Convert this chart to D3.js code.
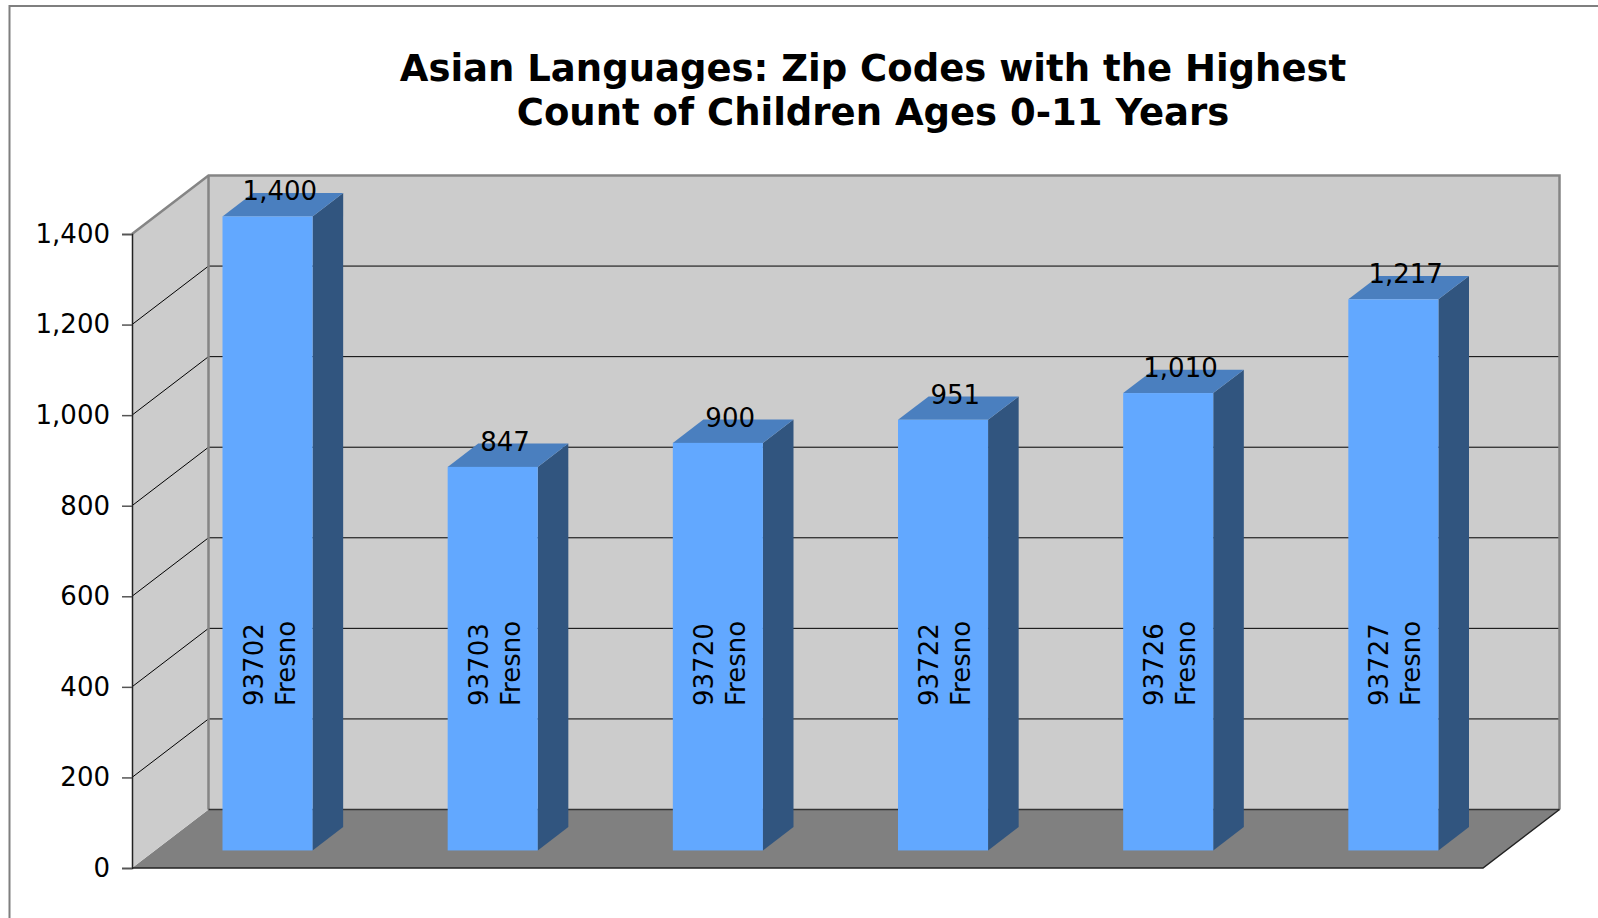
<!DOCTYPE html>
<html>
<head>
<meta charset="utf-8">
<script src="https://d3js.org/d3.v7.min.js"></script>
<style>
  body { margin: 0; background: #fff; }
  svg { display: block; font-family: Verdana, "DejaVu Sans", sans-serif; }
</style>
</head>
<body>
<div id="chart"></div>
<script>
// Chart data
const zipCodes = ["93702", "93703", "93720", "93722", "93726", "93727"];
const cities = ["Fresno", "Fresno", "Fresno", "Fresno", "Fresno", "Fresno"];
const counts = [1400, 847, 900, 951, 1010, 1217];
const yTicks = [0, 200, 400, 600, 800, 1000, 1200, 1400];
const titleLines = ["Asian Languages: Zip Codes with the Highest", "Count of Children Ages 0-11 Years"];

const width = 1598, height = 918;

// 3D box geometry
const floorY = 868;      // front floor edge
const frontLeft = 132, frontRight = 1483;
const depthX = 76.5, depthY = 58.5;   // full depth offset of the plot box
const barD0 = 0.3, barD1 = 0.7;       // bar depth range (fraction of box depth)

const svg = d3.select('#chart')
    .append('svg')
    .attr('width', width)
    .attr('height', height);

// outer chart border
svg.append('rect')
    .attr('x', 9.5).attr('y', 6)
    .attr('width', 1700).attr('height', 1000)
    .attr('fill', 'none')
    .attr('stroke', '#7f7f7f')
    .attr('stroke-width', 2);

// title
svg.append('text')
    .attr('text-anchor', 'middle')
    .attr('font-weight', 'bold')
    .attr('font-size', '37px')
    .attr('fill', '#000')
    .selectAll('tspan')
    .data(titleLines)
    .join('tspan')
    .attr('x', 873)
    .attr('y', (d, i) => 81 + i * 44)
    .text(d => d);

// scales
const y = d3.scaleLinear().domain([0, 1400]).range([floorY, floorY - 634]);
const x = d3.scaleBand()
    .domain(zipCodes)
    .range([frontLeft, frontRight])
    .paddingInner(0.6)
    .paddingOuter(0.3);

// project a point at depth fraction d
const px = (xx, d) => xx + depthX * d;
const py = (yy, d) => yy - depthY * d;

const pts = arr => arr.map(p => p.join(',')).join(' ');

const walls = svg.append('g');

// floor
walls.append('polygon')
    .attr('points', pts([
        [frontLeft, floorY], [px(frontLeft, 1), py(floorY, 1)],
        [px(frontRight, 1), py(floorY, 1)], [frontRight, floorY]
    ]))
    .attr('fill', '#808080');

// side wall
walls.append('polygon')
    .attr('points', pts([
        [frontLeft, y(1400)], [px(frontLeft, 1), py(y(1400), 1)],
        [px(frontLeft, 1), py(floorY, 1)], [frontLeft, floorY]
    ]))
    .attr('fill', '#cccccc');

// back wall
walls.append('rect')
    .attr('x', px(frontLeft, 1))
    .attr('y', py(y(1400), 1))
    .attr('width', frontRight - frontLeft)
    .attr('height', y(0) - y(1400))
    .attr('fill', '#cccccc');

// gridlines on back wall and side wall
const grid = walls.append('g')
    .attr('stroke', '#000')
    .attr('stroke-width', 1);

grid.selectAll('line.back')
    .data(yTicks.filter(v => v > 0 && v < 1400))
    .join('line')
    .attr('class', 'back')
    .attr('x1', px(frontLeft, 1)).attr('x2', px(frontRight, 1))
    .attr('y1', d => py(y(d), 1)).attr('y2', d => py(y(d), 1));

grid.selectAll('line.side')
    .data(yTicks.filter(v => v > 0 && v < 1400))
    .join('line')
    .attr('class', 'side')
    .attr('x1', frontLeft).attr('x2', px(frontLeft, 1))
    .attr('y1', d => y(d)).attr('y2', d => py(y(d), 1));

// wall edges
walls.append('polyline')
    .attr('points', pts([
        [frontLeft, y(1400)], [px(frontLeft, 1), py(y(1400), 1)],
        [px(frontRight, 1), py(y(1400), 1)], [px(frontRight, 1), py(floorY, 1)]
    ]))
    .attr('fill', 'none')
    .attr('stroke', '#858585')
    .attr('stroke-width', 2.5);

walls.append('line')
    .attr('x1', px(frontLeft, 1)).attr('x2', px(frontLeft, 1))
    .attr('y1', py(y(1400), 1)).attr('y2', py(floorY, 1))
    .attr('stroke', '#858585')
    .attr('stroke-width', 2.5);

walls.append('line')
    .attr('x1', px(frontLeft, 1)).attr('x2', px(frontRight, 1))
    .attr('y1', py(floorY, 1)).attr('y2', py(floorY, 1))
    .attr('stroke', '#333')
    .attr('stroke-width', 1.5);

walls.append('polyline')
    .attr('points', pts([
        [frontLeft, floorY], [frontRight, floorY], [px(frontRight, 1), py(floorY, 1)]
    ]))
    .attr('fill', 'none')
    .attr('stroke', '#222')
    .attr('stroke-width', 1.5);

// y axis on the front left edge
const axis = svg.append('g')
    .attr('transform', `translate(${frontLeft},0)`)
    .call(d3.axisLeft(y)
        .tickValues(yTicks)
        .tickSize(10)
        .tickPadding(12)
        .tickFormat(d3.format(',')));

axis.select('.domain').attr('stroke', '#222').attr('stroke-width', 1.5);
axis.selectAll('.tick line').attr('stroke', '#555').attr('stroke-width', 1.5);
axis.selectAll('.tick text')
    .attr('font-size', '26px')
    .attr('font-family', 'Verdana, "DejaVu Sans", sans-serif')
    .attr('fill', '#000');

// bars
const bars = svg.append('g')
    .selectAll('g')
    .data(zipCodes.map((z, i) => ({ zip: z, city: cities[i], value: counts[i] })))
    .join('g');

bars.each(function(d) {
    const g = d3.select(this);
    const x0 = x(d.zip), x1 = x(d.zip) + x.bandwidth();
    const yt = y(d.value), yb = y(0);

    // side face
    g.append('polygon')
        .attr('points', pts([
            [px(x1, barD0), py(yt, barD0)], [px(x1, barD1), py(yt, barD1)],
            [px(x1, barD1), py(yb, barD1)], [px(x1, barD0), py(yb, barD0)]
        ]))
        .attr('fill', '#31557f');

    // top face
    g.append('polygon')
        .attr('points', pts([
            [px(x0, barD0), py(yt, barD0)], [px(x0, barD1), py(yt, barD1)],
            [px(x1, barD1), py(yt, barD1)], [px(x1, barD0), py(yt, barD0)]
        ]))
        .attr('fill', '#4a7fbf');

    // front face
    g.append('rect')
        .attr('x', px(x0, barD0))
        .attr('y', py(yt, barD0))
        .attr('width', x.bandwidth())
        .attr('height', yb - yt)
        .attr('fill', '#62a8ff');

    // category label, rotated inside the front face
    const cx = px(x0, barD0) + x.bandwidth() / 2 + 3;
    g.append('text')
        .attr('transform', `translate(${cx},706) rotate(-90)`)
        .attr('font-size', '26px')
        .attr('fill', '#000')
        .selectAll('tspan')
        .data([d.zip, d.city])
        .join('tspan')
        .attr('x', 0)
        .attr('y', (t, i) => -8 + i * 32)
        .text(t => t);
});

// value labels
svg.append('g')
    .selectAll('text')
    .data(counts)
    .join('text')
    .attr('x', (d, i) => px(x(zipCodes[i]) + x.bandwidth() / 2, 0.5) - 3)
    .attr('y', d => py(y(d), 0.5) - 4.5)
    .attr('text-anchor', 'middle')
    .attr('font-size', '26px')
    .attr('fill', '#000')
    .text(d => d3.format(',')(d));
</script>
</body>
</html>
